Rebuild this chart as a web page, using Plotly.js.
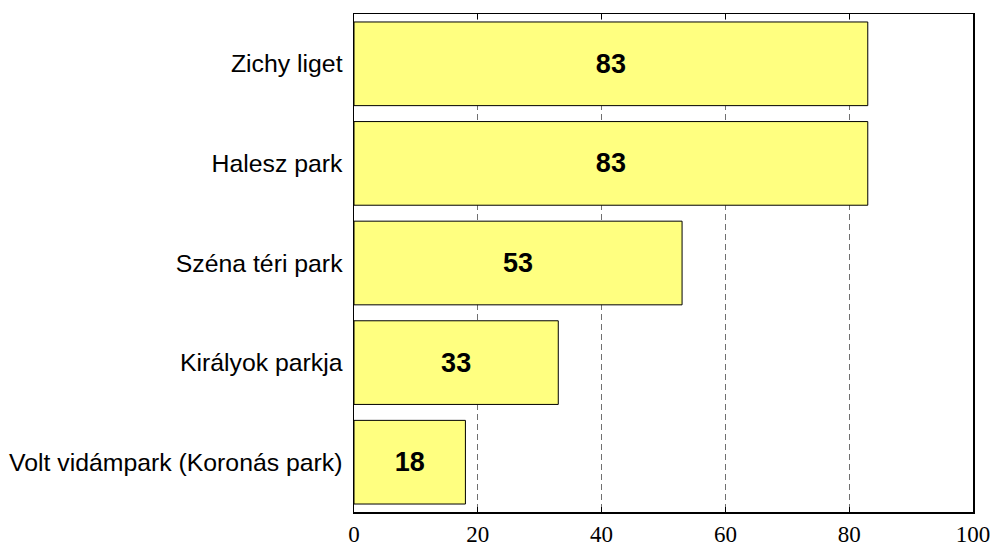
<!DOCTYPE html>
<html>
<head>
<meta charset="utf-8">
<script src="https://cdn.plot.ly/plotly-3.0.1.min.js"></script>
<style>html,body{margin:0;padding:0;background:#fff;}#chart{width:996px;height:546px;}</style>
</head>
<body>
<div id="chart"></div>
<script>
const categories = ["Zichy liget", "Halesz park", "Széna téri park", "Királyok parkja", "Volt vidámpark (Koronás park)"];
const values = [83, 83, 53, 33, 18];
const xTickValues = [0, 20, 40, 60, 80, 100];

const trace = {
  type: 'bar',
  orientation: 'h',
  y: categories,
  x: values,
  width: 0.84,
  marker: {color: '#FFFF80', line: {color: '#000000', width: 1}},
  text: values.map(String),
  textposition: 'inside',
  insidetextanchor: 'middle',
  textangle: 0,
  textfont: {family: 'Liberation Sans Narrow, Arial Narrow, Liberation Sans, Arial, sans-serif', size: 27, color: '#000000', weight: 'bold'},
  hoverinfo: 'none'
};

const layout = {
  width: 996,
  height: 546,
  margin: {l: 354, r: 23, t: 14, b: 34},
  paper_bgcolor: '#ffffff',
  plot_bgcolor: '#ffffff',
  showlegend: false,
  bargap: 0.16,
  xaxis: {
    range: [0, 100],
    tickvals: xTickValues,
    ticktext: xTickValues.map(String),
    showgrid: true,
    gridcolor: '#707070',
    gridwidth: 1,
    griddash: '6px,4px',
    zeroline: false,
    showline: true,
    linecolor: '#000000',
    linewidth: 1.5,
    mirror: 'ticks',
    ticks: 'inside',
    ticklen: 5,
    tickcolor: '#000000',
    tickfont: {family: 'Liberation Serif, Times New Roman, serif', size: 23, color: '#000000'},
    ticklabelstandoff: 1,
    fixedrange: true
  },
  yaxis: {
    autorange: 'reversed',
    type: 'category',
    showgrid: false,
    zeroline: false,
    showline: true,
    linecolor: '#000000',
    linewidth: 1.5,
    mirror: true,
    ticks: '',
    tickfont: {family: 'Liberation Sans, Arial, sans-serif', size: 24.8, color: '#000000'},
    ticklabelstandoff: 5,
    fixedrange: true
  }
};

Plotly.newPlot('chart', [trace], layout, {staticPlot: true, displayModeBar: false});
</script>
</body>
</html>
